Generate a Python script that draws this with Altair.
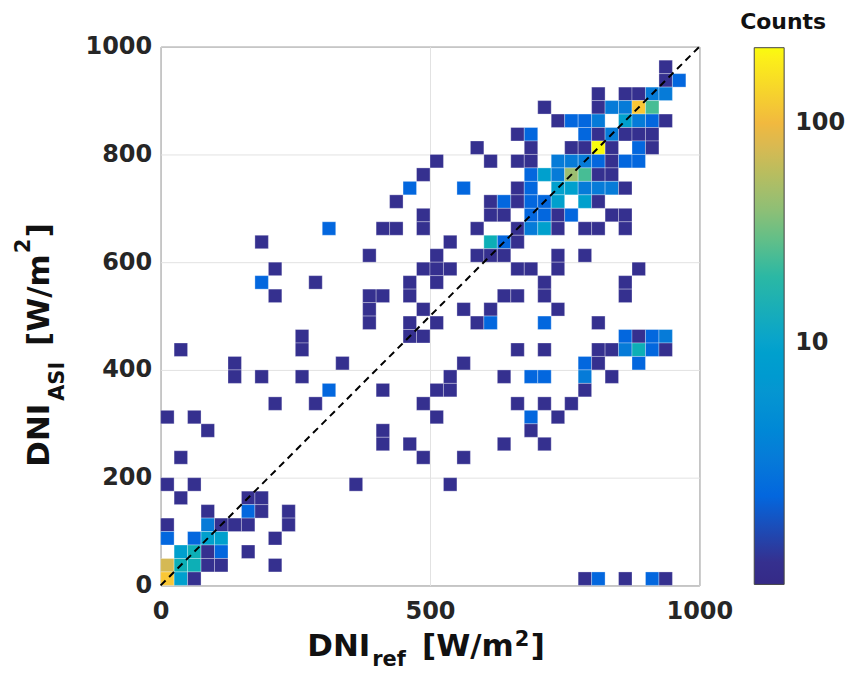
import altair as alt
import pandas as pd

FONT = "DejaVu Sans"
BIN = 25  # W/m2 bin width

# 2-D histogram cells: lower edge of DNI_ref bin, lower edge of DNI_ASI bin, counts
ref_bin = [
    925,
    925, 950,
    800, 850, 875, 900, 925,
    700, 800, 825, 850, 875, 900,
    725, 750, 775, 800, 850, 875, 900, 925,
    650, 675, 775, 800, 825, 850, 875, 900,
    575, 675, 750, 775, 800, 825, 875, 900,
    500, 600, 650, 675, 725, 750, 775, 800, 825, 850, 875,
    475, 675, 700, 725, 750, 775, 800, 825,
    450, 550, 650, 675, 725, 750, 775, 800, 825, 850,
    425, 600, 625, 650, 675, 700, 725, 775, 800,
    475, 600, 625, 675, 700, 725, 750, 825, 850,
    300, 400, 425, 475, 575, 650, 675, 700, 725, 775, 800, 850,
    175, 525, 600, 625, 650,
    375, 500, 575, 600, 625, 725, 775,
    200, 475, 500, 525, 650, 675, 725, 875,
    175, 275, 450, 500, 700, 850,
    200, 375, 400, 450, 625, 650, 700, 850,
    375, 475, 550, 600, 725,
    375, 450, 500, 575, 600, 700, 800,
    250, 450, 475, 850, 875, 900, 925,
    25, 250, 650, 700, 800, 825, 850, 875, 900, 925,
    125, 325, 550, 775, 800, 875,
    125, 175, 250, 525, 625, 675, 700, 775, 825,
    300, 400, 500, 525, 775,
    200, 275, 475, 650, 700, 750,
    0, 50, 500, 675, 725,
    75, 400, 675,
    400, 450, 625, 700,
    25, 475, 550,
    0, 50, 350, 525,
    25, 150, 175,
    75, 150, 175, 225,
    0, 75, 100, 125, 150, 225,
    0, 50, 75, 100, 200,
    25, 50, 75, 100, 150,
    0, 25, 50, 75, 100, 200,
    0, 25, 50, 775, 800, 850, 900, 925,
]
asi_bin = (
    [950] * 1 + [925] * 2 + [900] * 5 + [875] * 6 + [850] * 8 + [825] * 8
    + [800] * 8 + [775] * 11 + [750] * 8 + [725] * 10 + [700] * 9 + [675] * 9
    + [650] * 12 + [625] * 5 + [600] * 7 + [575] * 8 + [550] * 6 + [525] * 8
    + [500] * 5 + [475] * 7 + [450] * 7 + [425] * 10 + [400] * 6 + [375] * 9
    + [350] * 5 + [325] * 6 + [300] * 5 + [275] * 3 + [250] * 4 + [225] * 3
    + [175] * 4 + [150] * 3 + [125] * 4 + [100] * 6 + [75] * 5 + [50] * 5
    + [25] * 6 + [0] * 8
)
counts = [
    1,
    1, 2,
    1, 1, 1, 3, 3,
    1, 1, 3, 3, 130, 25,
    1, 2, 2, 3, 9, 3, 2, 1,
    1, 2, 2, 1, 3, 1, 1, 1,
    1, 1, 1, 1, 221, 1, 2, 1,
    1, 1, 1, 1, 3, 3, 3, 2, 1, 2, 2,
    1, 2, 9, 3, 45, 25, 1, 1,
    2, 2, 1, 2, 9, 9, 3, 3, 3, 1,
    1, 1, 2, 1, 2, 2, 9, 9, 1,
    1, 1, 1, 2, 2, 1, 2, 1, 1,
    2, 1, 1, 1, 1, 1, 3, 9, 1, 1, 1, 1,
    1, 1, 15, 2, 1,
    1, 1, 1, 1, 1, 1, 1,
    1, 1, 1, 1, 1, 1, 1, 1,
    2, 1, 1, 1, 1, 1,
    1, 1, 1, 1, 1, 1, 1, 1,
    1, 1, 1, 1, 1,
    1, 1, 1, 1, 2, 2, 1,
    1, 1, 1, 2, 1, 2, 3,
    1, 1, 1, 1, 1, 1, 3, 15, 2, 1,
    1, 1, 1, 2, 1, 2,
    1, 1, 1, 1, 1, 2, 2, 3, 1,
    2, 1, 1, 1, 1,
    1, 1, 1, 1, 1, 1,
    1, 1, 1, 2, 1,
    1, 1, 1,
    1, 1, 1, 1,
    1, 1, 1,
    1, 1, 1, 1,
    1, 1, 1,
    1, 2, 1, 1,
    1, 3, 1, 1, 1, 1,
    2, 2, 9, 9, 1,
    9, 15, 1, 2, 1,
    75, 15, 15, 1, 1, 1,
    130, 9, 1, 1, 2, 1, 2, 1,
]

x_ticks = [0, 500, 1000]
y_ticks = [0, 200, 400, 600, 800, 1000]
cbar_ticks = [10, 100]
identity = [0, 1000]
# colour bar stops (counts) and the colours
count_stops = [0.79, 1.0, 1.39, 1.74, 2.73, 5.37, 10.0, 15.6, 26.0, 44.6, 75.7, 100.0, 149.0, 221.0]
stop_colors = ["#352a87", "#35308f", "#1a55d6", "#0f5fdf", "#1477d8", "#0e93d2", "#07a3cc",
               "#16b0b3", "#4cbe92", "#9bbe72", "#d6b954", "#f1b93f", "#fccf30", "#f9fb0e"]

df = pd.DataFrame({"ref": ref_bin, "asi": asi_bin, "n": counts})
df["ref2"] = df["ref"] + BIN
df["asi2"] = df["asi"] + BIN

xs = alt.Scale(domain=[0, 1000], nice=False, zero=False)
ys = alt.Scale(domain=[0, 1000], nice=False, zero=False)

x_axis = alt.Axis(values=x_ticks, title=None, grid=True, gridColor="#e2e2e2", format="d",
                  domain=False, ticks=False, tickSize=0, labelFont=FONT,
                  labelFontWeight="bold", labelFontSize=24, labelColor="#262626",
                  labelPadding=14, labelFlush=False, labelOverlap=False)
y_axis = alt.Axis(values=y_ticks, title=None, grid=True, gridColor="#e2e2e2", format="d",
                  domain=False, ticks=False, tickSize=0, labelFont=FONT,
                  labelFontWeight="bold", labelFontSize=24, labelColor="#262626",
                  labelPadding=9, labelFlush=False, labelOverlap=False)

cells = alt.Chart(df).mark_rect(stroke="white", strokeOpacity=0.3, strokeWidth=1).encode(
    x=alt.X("ref:Q", scale=xs, axis=x_axis),
    x2="ref2:Q",
    y=alt.Y("asi:Q", scale=ys, axis=y_axis),
    y2="asi2:Q",
    color=alt.Color(
        "n:Q",
        scale=alt.Scale(type="log", domain=count_stops, range=stop_colors),
        legend=alt.Legend(
            title=None, orient="none", legendX=595, legendY=1, direction="vertical",
            gradientLength=538, gradientThickness=30, gradientStrokeColor="#444",
            gradientStrokeWidth=1, values=cbar_ticks, format="d", labelFont=FONT,
            labelFontWeight="bold", labelFontSize=24, labelColor="#262626",
            labelOffset=11, padding=0,
        ),
    ),
)

line_df = pd.DataFrame({"a": identity, "b": identity})
diag = alt.Chart(line_df).mark_line(color="black", strokeWidth=2, strokeDash=[7, 5]).encode(
    x=alt.X("a:Q", scale=xs), y=alt.Y("b:Q", scale=ys)
)

one = pd.DataFrame({"k": [0]})


def txt(s, x, y, size, angle=0, align="left"):
    return alt.Chart(one).mark_text(
        text=s, font=FONT, fontWeight="bold", fontSize=size, align=align,
        baseline="alphabetic", angle=angle, color="#111111",
    ).encode(x=alt.value(x), y=alt.value(y))


titles = [
    # x title: DNI_ref [W/m^2]
    txt("DNI", 147, 611, 31),
    txt("ref", 212, 621, 21),
    txt("[W/m", 262, 611, 31),
    txt("2", 355, 601, 21),
    txt("]", 371, 611, 31),
    # y title: DNI_ASI [W/m^2]
    txt("DNI", -112, 421, 31, 270),
    txt("ASI", -97, 355, 21, 270),
    txt("[W/m", -112, 300, 31, 270),
    txt("2", -131, 207, 21, 270),
    txt("]", -112, 191, 31, 270),
    # colour bar title
    txt("Counts", 624, -18, 22, 0, "center"),
]

chart = alt.layer(cells, diag, *titles).properties(
    width=540, height=540,
    autosize=alt.AutoSizeParams(type="none"),
    padding={"left": 153, "top": 38, "right": 150, "bottom": 88},
).configure_view(stroke="#555555", strokeWidth=1)

chart.save("out.html", embed_options={"renderer": "svg", "actions": False})
